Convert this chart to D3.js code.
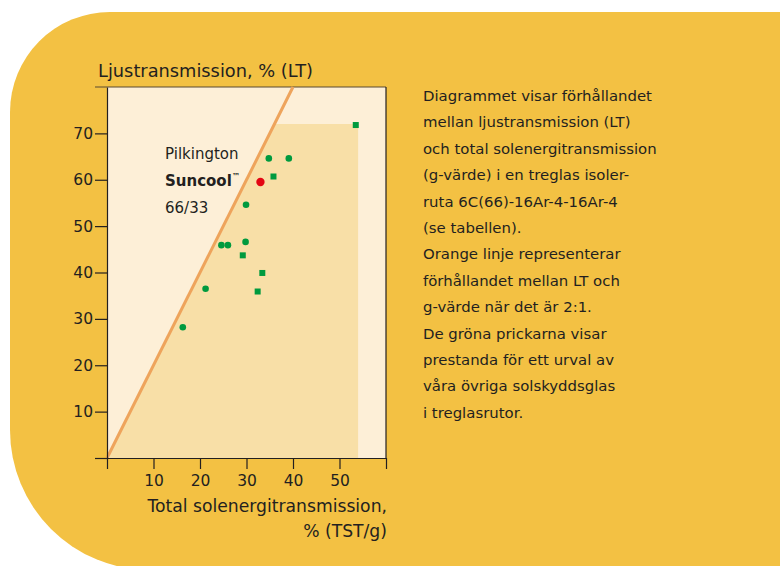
<!DOCTYPE html>
<html>
<head>
<meta charset="utf-8">
<script src="https://cdn.jsdelivr.net/npm/d3@7"></script>
<style>
  body { margin: 0; background: #fff; }
  svg { display: block; font-family: "DejaVu Sans", Verdana, sans-serif; }
  .axis path, .axis line { stroke: #231f20; stroke-width: 1.2; }
  .axis text { fill: #231f20; font-size: 15.5px; font-family: "DejaVu Sans", sans-serif; }
</style>
</head>
<body>
<div id="chart"></div>
<script>
// Chart data

var xTicks = [0, 10, 20, 30, 40, 50, 60];
var yTicks = [0, 10, 20, 30, 40, 50, 60, 70];

var dotG  = [34.8, 39.1, 29.9, 24.6, 26.0, 29.8, 21.2, 16.3];   // green dots, g-värde
var dotLT = [64.6, 64.6, 54.6, 45.9, 45.9, 46.6, 36.5, 28.2];   // green dots, LT

var sqG  = [53.5, 35.8, 29.2, 33.4, 32.4];                     // green squares
var sqLT = [71.8, 60.7, 43.7, 39.9, 35.9];

var suncoolG = [33.0];
var suncoolLT = [59.5];

var ratio = 2;                                                 // LT = 2 * g
var rangeBox = [54, 72];                                       // shaded zone up to g 54, LT 72

var infoLines = [
  "Diagrammet visar förhållandet",
  "mellan ljustransmission (LT)",
  "och total solenergitransmission",
  "(g-värde) i en treglas isoler-",
  "ruta 6C(66)-16Ar-4-16Ar-4",
  "(se tabellen).",
  "Orange linje representerar",
  "förhållandet mellan LT och",
  "g-värde när det är 2:1.",
  "De gröna prickarna visar",
  "prestanda för ett urval av",
  "våra övriga solskyddsglas",
  "i treglasrutor."
];

var W = 780, H = 566;

var svg = d3.select("#chart").append("svg")
    .attr("width", W)
    .attr("height", H);

// Yellow backdrop with rounded left corners

svg.append("path")
    .attr("d", "M780,12 L110,12 A100,100 0 0 0 10,112 L10,430 A140,140 0 0 0 150,570 L780,570 Z")
    .attr("fill", "#f3c143");

// Scales

var x = d3.scaleLinear().domain([0, 60]).range([107, 386]);
var y = d3.scaleLinear().domain([0, 80]).range([458, 87]);

// Plot background

svg.append("rect")
    .attr("x", x(0)).attr("y", y(80))
    .attr("width", x(60) - x(0)).attr("height", y(0) - y(80))
    .attr("fill", "#fdefd7");

// Shaded zone right of the 2:1 line
var zone = [[0, 0], [rangeBox[1] / ratio, rangeBox[1]], [rangeBox[0], rangeBox[1]], [rangeBox[0], 0]];
svg.append("path")
    .attr("d", d3.line().x(function(d) { return x(d[0]); }).y(function(d) { return y(d[1]); })(zone) + "Z")
    .attr("fill", "#f8dfa7");

// Frame top and right

svg.append("line")
    .attr("x1", x(0) - 12).attr("x2", x(60))
    .attr("y1", y(80)).attr("y2", y(80))
    .attr("stroke", "#5a4a30").attr("stroke-width", 1.2);

svg.append("line")
    .attr("x1", x(60)).attr("x2", x(60))
    .attr("y1", y(80)).attr("y2", y(0))
    .attr("stroke", "#231f20").attr("stroke-width", 1.2);

// 2:1 line

svg.append("line")
    .attr("x1", x(0)).attr("y1", y(0))
    .attr("x2", x(80 / ratio)).attr("y2", y(80))
    .attr("stroke", "#eea45c").attr("stroke-width", 3);

// Axes

svg.append("g")
    .attr("class", "axis")
    .attr("transform", "translate(0," + y(0) + ")")
    .call(d3.axisBottom(x).tickValues(xTicks).tickSize(11).tickSizeOuter(0).tickPadding(6)
        .tickFormat(function(d) { return (d === 0 || d === 60) ? "" : d; }));

svg.append("g")
    .attr("class", "axis")
    .attr("transform", "translate(" + x(0) + ",0)")
    .call(d3.axisLeft(y).tickValues(yTicks).tickSize(12).tickSizeOuter(0).tickPadding(2)
        .tickFormat(function(d) { return d === 0 ? "" : d; }));

// Points

svg.selectAll(".dot")
    .data(dotG.map(function(g, i) { return [g, dotLT[i]]; }))
    .enter().append("circle")
    .attr("cx", function(d) { return x(d[0]); })
    .attr("cy", function(d) { return y(d[1]); })
    .attr("r", 3.3)
    .attr("fill", "#009a3e");

svg.selectAll(".sq")
    .data(sqG.map(function(g, i) { return [g, sqLT[i]]; }))
    .enter().append("rect")
    .attr("x", function(d) { return x(d[0]) - 3; })
    .attr("y", function(d) { return y(d[1]) - 3; })
    .attr("width", 6).attr("height", 6)
    .attr("fill", "#009a3e");

svg.selectAll(".suncool")
    .data(suncoolG.map(function(g, i) { return [g, suncoolLT[i]]; }))
    .enter().append("circle")
    .attr("cx", function(d) { return x(d[0]); })
    .attr("cy", function(d) { return y(d[1]); })
    .attr("r", 4.2)
    .attr("fill", "#e30613");

// Product label

var label = svg.append("g").attr("fill", "#231f20").attr("font-size", "15px");
label.append("text").attr("x", 165).attr("y", 159).text("Pilkington");
var sc = label.append("text").attr("x", 165).attr("y", 186).attr("font-weight", "bold");
sc.append("tspan").text("Suncool");
sc.append("tspan").attr("font-size", "8px").attr("dy", -7).text("™");
label.append("text").attr("x", 165).attr("y", 213).text("66/33");

// Axis titles

svg.append("text")
    .attr("x", 98).attr("y", 77)
    .attr("font-size", "17.8px").attr("fill", "#231f20")
    .text("Ljustransmission, % (LT)");

svg.append("text")
    .attr("x", 387).attr("y", 512)
    .attr("text-anchor", "end")
    .attr("font-size", "17.2px").attr("fill", "#231f20")
    .text("Total solenergitransmission,");

svg.append("text")
    .attr("x", 387).attr("y", 537)
    .attr("text-anchor", "end")
    .attr("font-size", "17.2px").attr("fill", "#231f20")
    .text("% (TST/g)");

// Side text

svg.append("g").selectAll("text")
    .data(infoLines)
    .enter().append("text")
    .attr("x", 423)
    .attr("y", function(d, i) { return 101 + i * 26.4; })
    .attr("font-size", "14.9px")
    .attr("fill", "#231f20")
    .text(function(d) { return d; });
</script>
</body>
</html>
